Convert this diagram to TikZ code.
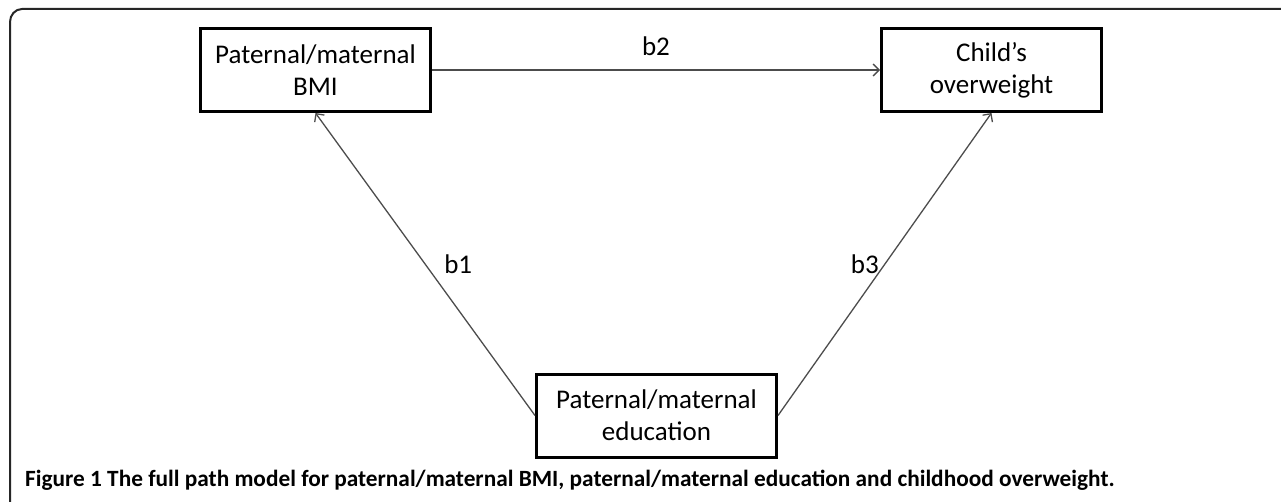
\documentclass[tikz,border=0pt]{standalone}
\usepackage{fontspec}
\setmainfont{Carlito}
\usetikzlibrary{arrows.meta, positioning}
\tikzset{basic/.style={draw, line width=3pt, align=center, font=\fontsize{27}{32}\selectfont}}
\tikzset{varbox/.style={basic, rectangle, minimum height=83pt}}
\tikzset{path/.style={draw=black!70, line width=1.3pt}}
\tikzset{>={Straight Barb[length=6pt, width=12pt]}}
\tikzset{coef/.style={font=\fontsize{27}{32}\selectfont}}

\begin{document}
\begin{tikzpicture}[x=1pt, y=-1pt]

    \useasboundingbox (0,0) rectangle (1281,502);
    \draw[line width=2pt, black!85] (10,502) -- (10,22) to[out=90, in=180] (22,9) -- (1281,9);

    \node[varbox, minimum width=230pt] (bmi) at (315.5,70) {Paternal/maternal\\BMI};
    \node[varbox, minimum width=220pt] (child) at (991.5,70) {Child's\\overweight};
    \node[varbox, minimum width=240pt] (edu) at (656.5,415.5) {Paternal/maternal\\education};

    \draw[path, ->] (bmi) to node[coef, pos=0.5, yshift=24pt] {b2} (child);
    \draw[path, ->] (edu.west) to node[coef, pos=0.5, xshift=33pt] {b1} (bmi.south);
    \draw[path, ->] (edu.east) to node[coef, pos=0.5, xshift=-20pt] {b3} (child.south);

    \node[anchor=base west, font=\fontsize{23.3}{27}\selectfont\bfseries, inner sep=0pt] (caption) at (25,486)
        {Figure 1 The full path model for paternal/maternal BMI, paternal/maternal education and childhood overweight.};

\end{tikzpicture}
\end{document}
